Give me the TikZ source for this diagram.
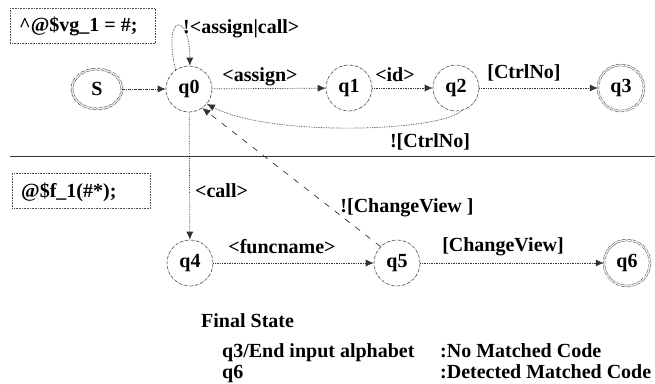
\documentclass[tikz,border=0pt]{standalone}
\usepackage{fontspec}
\setmainfont{Liberation Serif}
\usetikzlibrary{arrows.meta,shapes.geometric}
\begin{document}
\begin{tikzpicture}[x=1pt,y=-1pt,
  font=\fontsize{20}{23}\selectfont\bfseries,
  st/.style={circle,draw=black!75,densely dash dot,line width=0.6pt,minimum size=46pt,inner sep=0pt},
  acc/.style={st,double,double distance=1.3pt,line width=0.5pt},
  tr/.style={draw=black!80,densely dotted,line width=0.7pt,-{Latex[length=8pt,width=7pt]}},
  lbl/.style={anchor=base,inner sep=0pt},
  codebox/.style={draw=black!70,densely dotted,line width=0.6pt,anchor=north west,inner sep=0pt}
]
\useasboundingbox (0,0) rectangle (655,383);
% code boxes
\node[codebox,minimum width=145pt,minimum height=35pt] (b1) at (10,8) {};
\node[anchor=base west,inner sep=0pt] (t1) at (19,31) {\^{}@\$vg\_1 = \#;};
\node[codebox,minimum width=138pt,minimum height=35pt] (b2) at (12,173) {};
\node[anchor=base west,inner sep=0pt] (t2) at (21,197) {@\$f\_1(\#*);};
% separator
\coordinate (sl) at (10,156);
\coordinate (sr) at (655,156);
\draw[black!80,line width=0.7pt] (sl) -- (sr);
% states
\node[st,ellipse,double,double distance=1.3pt,minimum width=50pt,minimum height=40pt] (S) at (97,89) {S};
\node[st] (q0) at (189,89) {q0};
\node[st] (q1) at (349,88) {q1};
\node[st] (q2) at (456,88) {q2};
\node[acc] (q3) at (621,88) {q3};
\node[st] (q4) at (190,263) {q4};
\node[st] (q5) at (397,263) {q5};
\node[acc] (q6) at (627,263) {q6};
% transitions
\draw[tr,densely dash dot] (S) -- (q0);
\draw[tr] (q0.125) .. controls (162,12) and (190,12) .. (q0.88);
\draw[tr] (q0) -- (q1);
\draw[tr] (q1) -- (q2);
\draw[tr] (q2) -- (q3);
\draw[tr] (q2.-75) .. controls (440,132) and (270,137) .. (q0.-40);
\draw[tr] (q0) -- (q4);
\draw[tr] (q4) -- (q5);
\draw[tr] (q5) -- (q6);
\draw[tr,dash pattern=on 6pt off 7pt] (q5.135) -- (q0.-55);
% labels
\node[lbl,anchor=base west] (l0) at (183,33) {!<assign|call>};
\node[lbl] (l1) at (260,81) {<assign>};
\node[lbl] (l2) at (395,81) {<id>};
\node[lbl] (l3) at (524,78) {[CtrlNo]};
\node[lbl] (l4) at (430,147) {![CtrlNo]};
\node[lbl,anchor=base west] (l5) at (195,197) {<call>};
\node[lbl] (l6) at (282,253) {<funcname>};
\node[lbl] (l7) at (407,212) {![ChangeView ]};
\node[lbl] (l8) at (503,251) {[ChangeView]};
% final state legend
\node[anchor=base west,inner sep=0pt] (f0) at (201,327) {Final State};
\node[anchor=base west,inner sep=0pt] (f1) at (222,357) {q3/End input alphabet};
\node[anchor=base west,inner sep=0pt] (f2) at (222,378) {q6};
\node[anchor=base west,inner sep=0pt] (f3) at (440,357) {:No Matched Code};
\node[anchor=base west,inner sep=0pt] (f4) at (440,378) {:Detected Matched Code};
\end{tikzpicture}
\end{document}
